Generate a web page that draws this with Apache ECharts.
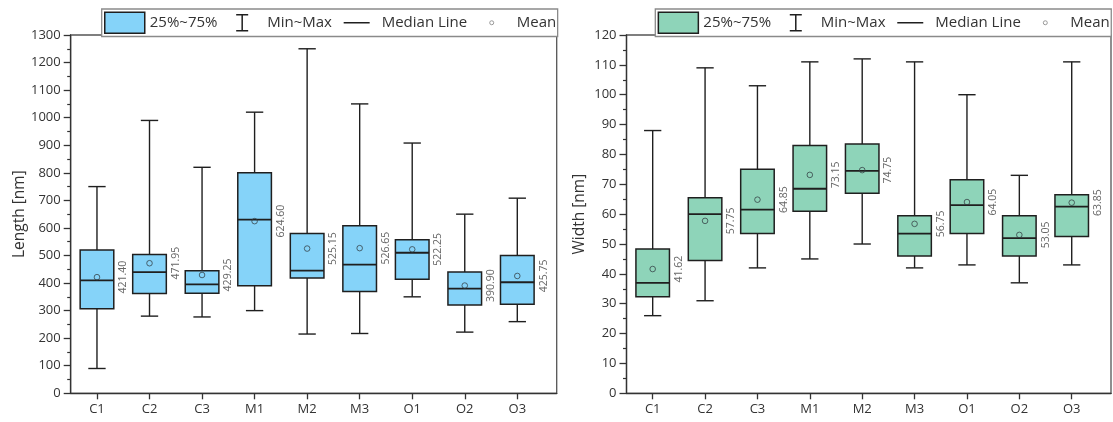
<!DOCTYPE html>
<html><head><meta charset="utf-8">
<script src="https://cdn.jsdelivr.net/npm/echarts@6/dist/echarts.min.js"></script>
<style>html,body{margin:0;padding:0;background:#fff}#c{width:1113px;height:422px}</style>
</head><body><div id="c"></div>
<script>
const categories = ['C1','C2','C3','M1','M2','M3','O1','O2','O3'];
const legendNames = ['25%~75%','Min~Max','Median Line','Mean'];

const lengthMin    = [90, 280, 277, 300, 215, 217, 350, 222, 260];
const lengthQ1     = [307, 362, 363, 390, 418, 369, 414, 320, 323];
const lengthMedian = [410, 440, 395, 630, 445, 467, 510, 380, 403];
const lengthQ3     = [520, 504, 445, 800, 580, 608, 557, 440, 500];
const lengthMax    = [750, 990, 820, 1020, 1250, 1050, 908, 650, 708];
const lengthMean   = [421.40, 471.95, 429.25, 624.60, 525.15, 526.65, 522.25, 390.90, 425.75];

const widthMin    = [26, 31, 42, 45, 50, 42, 43, 37, 43];
const widthQ1     = [32.3, 44.5, 53.5, 61, 67, 46, 53.5, 46, 52.5];
const widthMedian = [37, 60, 61.5, 68.5, 74.5, 53.5, 63, 52, 62.5];
const widthQ3     = [48.3, 65.5, 75, 83, 83.5, 59.5, 71.5, 59.5, 66.5];
const widthMax    = [88, 109, 103, 111, 112, 111, 100, 73, 111];
const widthMean   = [41.62, 57.75, 64.85, 73.15, 74.75, 56.75, 64.05, 53.05, 63.85];

const FONT = '"Open Sans", "Noto Sans", sans-serif';
const INK = '#1f1f1f';
const BOX = 0.32, CAP = 0.165;
const catIdx = categories.map((c, i) => i);

function boxRender(fill) {
  return function (params, api) {
    const x = api.value(0);
    const a = api.coord([x - BOX, api.value(2)]);
    const b = api.coord([x + BOX, api.value(1)]);
    return { type: 'rect', shape: { x: a[0], y: a[1], width: b[0] - a[0], height: b[1] - a[1] },
      style: { fill: fill, stroke: INK, lineWidth: 1.5 } };
  };
}
function whiskerRender(params, api) {
  const x = api.value(0);
  const top = api.coord([x, api.value(4)]), q3 = api.coord([x, api.value(3)]);
  const q1 = api.coord([x, api.value(2)]), bot = api.coord([x, api.value(1)]);
  const cl = api.coord([x - CAP, 0])[0], cr = api.coord([x + CAP, 0])[0];
  const st = { stroke: INK, lineWidth: 1.4 };
  return { type: 'group', children: [
    { type: 'line', shape: { x1: top[0], y1: top[1], x2: q3[0], y2: q3[1] }, style: st },
    { type: 'line', shape: { x1: q1[0], y1: q1[1], x2: bot[0], y2: bot[1] }, style: st },
    { type: 'line', shape: { x1: cl, y1: top[1], x2: cr, y2: top[1] }, style: st },
    { type: 'line', shape: { x1: cl, y1: bot[1], x2: cr, y2: bot[1] }, style: st }
  ] };
}
function medianRender(params, api) {
  const x = api.value(0);
  const a = api.coord([x - BOX, api.value(1)]), b = api.coord([x + BOX, api.value(1)]);
  return { type: 'line', shape: { x1: a[0], y1: a[1], x2: b[0], y2: b[1] }, style: { stroke: INK, lineWidth: 1.8 } };
}
function meanRender(params, api) {
  const x = api.value(0), m = api.value(1);
  const c = api.coord([x, m]);
  const t = api.coord([x + 0.5, m]);
  return { type: 'group', children: [
    { type: 'circle', shape: { cx: c[0], cy: c[1], r: 2.8 }, style: { fill: 'none', stroke: 'rgba(50,60,65,0.75)', lineWidth: 1 } },
    { type: 'text', x: t[0], y: t[1], rotation: Math.PI / 2,
      style: { text: m.toFixed(2), fill: '#666', font: '10.5px ' + FONT, align: 'center', verticalAlign: 'middle' } }
  ] };
}

function seriesFor(gi, fill, mn, q1, md, q3, mx, mean) {
  return [
    { type: 'custom', name: legendNames[1], xAxisIndex: gi, yAxisIndex: gi, z: 2, renderItem: whiskerRender,
      data: catIdx.map(i => [i, mn[i], q1[i], q3[i], mx[i]]) },
    { type: 'custom', name: legendNames[0], xAxisIndex: gi, yAxisIndex: gi, z: 3, renderItem: boxRender(fill),
      data: catIdx.map(i => [i, q1[i], q3[i]]) },
    { type: 'custom', name: legendNames[2], xAxisIndex: gi, yAxisIndex: gi, z: 4, renderItem: medianRender,
      data: catIdx.map(i => [i, md[i]]) },
    { type: 'custom', name: legendNames[3], xAxisIndex: gi, yAxisIndex: gi, z: 5, renderItem: meanRender,
      data: catIdx.map(i => [i, mean[i]]) }
  ];
}

function xAxisFor(gi) {
  return { type: 'value', gridIndex: gi, min: -0.5, max: 8.75, splitLine: { show: false },
    axisLine: { show: true, onZero: false, lineStyle: { color: '#333', width: 1.3 } },
    axisTick: { show: true, customValues: catIdx, length: 6, lineStyle: { color: '#333', width: 1.3 } },
    axisLabel: { customValues: catIdx, formatter: v => categories[v] || '', color: '#333', fontSize: 13, fontFamily: FONT, margin: 9 } };
}
function yAxisFor(gi, max, interval, name, gap) {
  return { type: 'value', gridIndex: gi, min: 0, max: max, interval: interval,
    name: name, nameLocation: 'middle', nameGap: gap, nameRotate: 90, nameMoveOverlap: false,
    nameTextStyle: { fontSize: 15.5, color: '#333', fontFamily: FONT },
    splitLine: { show: false }, minorSplitLine: { show: false },
    axisLine: { show: true, onZero: false, lineStyle: { color: '#333', width: 1.3 } },
    axisTick: { show: true, length: 7, lineStyle: { color: '#333', width: 1.3 } },
    minorTick: { show: true, splitNumber: 2, length: 3.5, lineStyle: { color: '#333', width: 1.2 } },
    axisLabel: { color: '#333', fontSize: 13, fontFamily: FONT, margin: 10, formatter: v => String(v) } };
}
function legendFor(left, fill) {
  return { left: left, top: 9, width: 600, orient: 'horizontal', padding: [2.5, 1.5, 2.5, 2.3], itemGap: 4,
    itemWidth: 40, itemHeight: 21, borderColor: '#8a8a8a', borderWidth: 1.3, backgroundColor: '#fff',
    selectedMode: false, textStyle: { fontSize: 15, color: '#333', fontFamily: FONT },
    data: [
      { name: legendNames[0], icon: 'rect', itemStyle: { color: fill, borderColor: INK, borderWidth: 1.5 } },
      { name: legendNames[1], icon: 'path://M0,0M40,21M14,2.5H26M20,2.5V18.5M14,18.5H26',
        itemStyle: { color: 'transparent', borderColor: INK, borderWidth: 1.5 } },
      { name: legendNames[2], icon: 'path://M0,0M40,21M7,10.5H33',
        itemStyle: { color: 'transparent', borderColor: INK, borderWidth: 1.5 } },
      { name: legendNames[3], icon: 'path://M0,0M40,21M18,10.5a2,2 0 1,0 4,0a2,2 0 1,0 -4,0',
        itemStyle: { color: 'transparent', borderColor: '#999', borderWidth: 1 } }
    ] };
}

const FILL_L = '#85D3F9', FILL_R = '#8ED4B9';
const chart = echarts.init(document.getElementById('c'), null, { renderer: 'canvas' });
chart.setOption({
  animation: false,
  backgroundColor: '#fff',
  grid: [
    { left: 70.7, top: 35, width: 486, height: 358.3, show: true, borderColor: '#555', borderWidth: 1.3, backgroundColor: 'transparent', containLabel: false, outerBoundsMode: 'none' },
    { left: 626.5, top: 35, width: 484.5, height: 358.3, show: true, borderColor: '#555', borderWidth: 1.3, backgroundColor: 'transparent', containLabel: false, outerBoundsMode: 'none' }
  ],
  xAxis: [xAxisFor(0), xAxisFor(1)],
  yAxis: [yAxisFor(0, 1300, 100, 'Length [nm]', 43), yAxisFor(1, 120, 10, 'Width [nm]', 38.5)],
  legend: [legendFor(101.7, FILL_L), legendFor(655.3, FILL_R)],
  tooltip: { show: false },
  series: seriesFor(0, FILL_L, lengthMin, lengthQ1, lengthMedian, lengthQ3, lengthMax, lengthMean)
    .concat(seriesFor(1, FILL_R, widthMin, widthQ1, widthMedian, widthQ3, widthMax, widthMean))
});
</script></body></html>
